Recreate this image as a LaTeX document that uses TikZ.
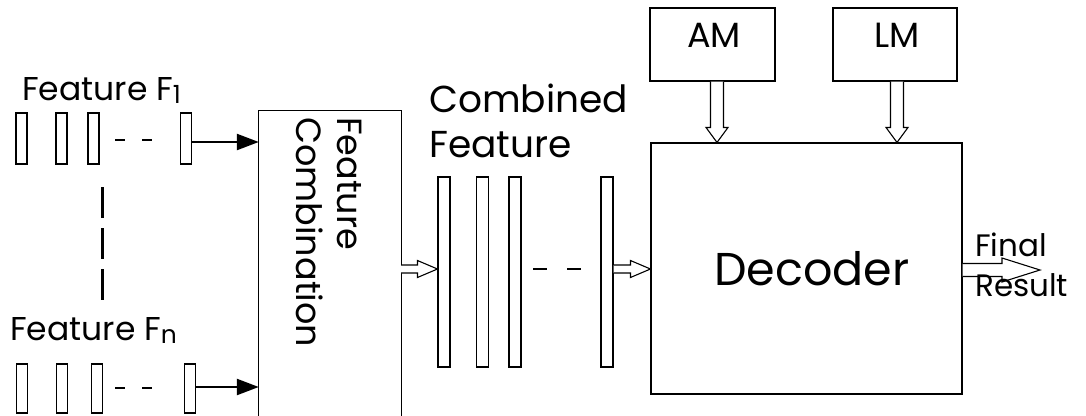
\documentclass[tikz,border=0pt]{standalone}
\usepackage{fontspec}
\setmainfont{Poppins}
\usetikzlibrary{calc,arrows.meta}
\newcommand\fs[1]{\fontsize{#1}{#1}\selectfont}
\newcommand\harrowR[5]{%
  \draw[harrow] ($(#1)+(0,-#3)$) -- ($(#2)+(-#5,-#3)$) -- ($(#2)+(-#5,-#4)$) -- (#2)
    -- ($(#2)+(-#5,#4)$) -- ($(#2)+(-#5,#3)$) -- ($(#1)+(0,#3)$);}
\newcommand\harrowD[5]{%
  \draw[harrow] ($(#1)+(-#3,0)$) -- ($(#2)+(-#3,-#5)$) -- ($(#2)+(-#4,-#5)$) -- (#2)
    -- ($(#2)+(#4,-#5)$) -- ($(#2)+(#3,-#5)$) -- ($(#1)+(#3,0)$);}
\tikzset{
  box/.style={draw, line width=1.1pt, inner sep=0pt},
  bar/.style={draw, line width=1.1pt, inner sep=0pt, minimum width=11pt},
  harrow/.style={draw, line width=1.1pt, fill=white, line join=miter},
  blackarrow/.style={line width=2.4pt, -{Triangle[length=22pt,width=16pt]}},
  dashrow/.style={line width=2.6pt, dash pattern=on 10pt off 17pt},
  lbl/.style={inner sep=0pt, anchor=base west},
}
\begin{document}
\begin{tikzpicture}[x=1pt,y=-1pt]
\useasboundingbox (0,0) rectangle (1086,415);
% row 1
\node[lbl] (t1) at (22,100) {\fs{33}Feature F\raisebox{-3pt}{\fs{25}1}};
\node[bar, minimum height=51pt] (a1) at (21.5,138.5) {};
\node[bar, minimum height=51pt] (a2) at (61.5,138.5) {};
\node[bar, minimum height=51pt] (a3) at (93.5,138.5) {};
\node[bar, minimum height=51pt] (a4) at (186,138.5) {};
\coordinate (d1s) at (115,140);
\coordinate (d1e) at (153,140);
\draw[dashrow] (d1s) -- (d1e);
% row n
\node[lbl] (tn) at (10,340) {\fs{33}Feature F\raisebox{-3pt}{\fs{25}n}};
\node[bar, minimum height=49pt] (b1) at (22,388.5) {};
\node[bar, minimum height=49pt] (b2) at (62,388.5) {};
\node[bar, minimum height=49pt] (b3) at (97,388.5) {};
\node[bar, minimum height=49pt] (b4) at (190,388.5) {};
\coordinate (dns) at (115,388);
\coordinate (dne) at (153,388);
\draw[dashrow] (dns) -- (dne);
% vertical dashes
\coordinate (vs) at (102,187);
\coordinate (ve) at (102,300);
\draw[line width=3pt, dash pattern=on 31pt off 10pt] (vs) -- (ve);
% feature combination box
\node[inner sep=0pt, minimum width=142pt, minimum height=320pt] (fc) at (330,271) {};
\draw[line width=1.1pt] (fc.south west) -- (fc.north west) -- (fc.north east) -- (fc.south east);
\node[lbl, rotate=-90] (fct1) at (337,117) {\fs{35}Feature};
\node[lbl, rotate=-90] (fct2) at (296,117) {\fs{35}Combination};
\draw[blackarrow] (a4.east |- 0,142) -- (fc.west |- 0,142);
\draw[blackarrow] (b4.east |- 0,387) -- (fc.west |- 0,387);
% combined feature
\node[lbl] (ct1) at (429,112) {\fs{37.5}Combined};
\node[lbl] (ct2) at (429,157) {\fs{37.5}Feature};
\node[bar, minimum width=12pt, minimum height=190pt] (c1) at (444,272) {};
\node[bar, minimum width=12pt, minimum height=190pt] (c2) at (482.5,272) {};
\node[bar, minimum width=12pt, minimum height=190pt] (c3) at (515,272) {};
\node[bar, minimum width=12pt, minimum height=190pt] (c4) at (607,272) {};
\coordinate (dcs) at (533,269);
\coordinate (dce) at (582,269);
\draw[line width=2.6pt, dash pattern=on 14pt off 20pt] (dcs) -- (dce);
% decoder and models
\node[box, minimum width=311pt, minimum height=251pt] (dec) at (806.5,268.5) {};
\node[inner sep=0pt, anchor=base] (dect) at (812,285) {\fs{46}Decoder};
\node[box, minimum width=125pt, minimum height=73pt] (am) at (712.5,44.5) {};
\node[inner sep=0pt, anchor=base] (amt) at (714,47) {\fs{35}AM};
\node[box, minimum width=124pt, minimum height=73pt] (lm) at (895,44.5) {};
\node[inner sep=0pt, anchor=base] (lmt) at (897,47) {\fs{35}LM};
% hollow arrows
\coordinate (yl) at (0,269);
\coordinate (h1s) at (fc.east |- yl);
\coordinate (h1e) at (c1.west |- yl);
\harrowR{h1s}{h1e}{4}{8.5}{20}
\coordinate (h2s) at (c4.east |- yl);
\coordinate (h2e) at (dec.west |- yl);
\harrowR{h2s}{h2e}{4}{8.5}{20}
\coordinate (h3s) at (am.south -| 717,0);
\coordinate (h3e) at (dec.north -| 717,0);
\harrowD{h3s}{h3e}{6.5}{11}{15}
\coordinate (h4s) at (lm.south -| 897,0);
\coordinate (h4e) at (dec.north -| 897,0);
\harrowD{h4s}{h4e}{6.5}{11}{15}
\coordinate (yf) at (0,270);
\coordinate (h5s) at (dec.east |- yf);
\coordinate (h5e) at (1040,270);
\harrowR{h5s}{h5e}{6.5}{12}{38}
\node[lbl] (fin1) at (975,256) {\fs{31}Final};
\node[lbl] (fin2) at (975,296) {\fs{31}Result};
\end{tikzpicture}
\end{document}
